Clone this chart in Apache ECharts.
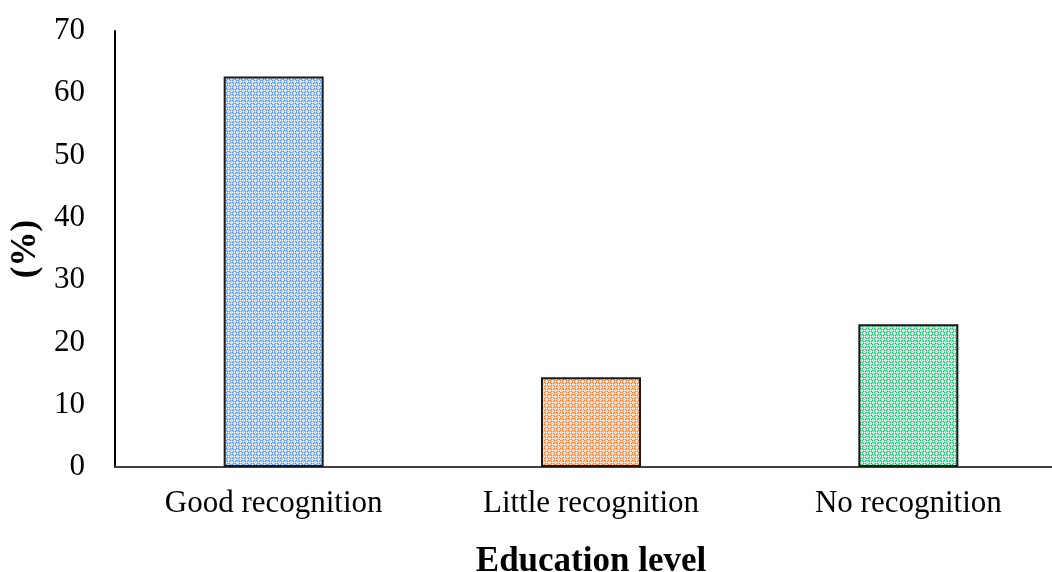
<!DOCTYPE html>
<html>
<head>
<meta charset="utf-8">
<script src="https://cdn.jsdelivr.net/npm/echarts@6/dist/echarts.min.js"></script>
<style>
  html, body { margin: 0; padding: 0; background: #fff; }
  #chart { width: 1052px; height: 572px; }
</style>
</head>
<body>
<div id="chart"></div>
<script>
// Recognition share by category
const categories = ['Good recognition', 'Little recognition', 'No recognition'];
const percentValues = [62.7, 14.4, 22.9];
const yTicks = { min: 0, max: 70, interval: 10 };

// Dotted fill tiles: [base, dark, light]
const palettes = [
  ['#b4d0f1', '#5b93da', '#eef5fd'],
  ['#f8c6a4', '#f07f35', '#fdefe5'],
  ['#9fe3c2', '#27b873', '#e6f9f0']
];

function makeTile(p) {
  const size = 6;
  const c = document.createElement('canvas');
  c.width = size; c.height = size;
  const ctx = c.getContext('2d');
  ctx.fillStyle = p[0];
  ctx.fillRect(0, 0, size, size);
  ctx.fillStyle = p[2];
  [[0,0],[3,3],[1,3],[4,0],[0,4],[3,1],[0,2],[2,0]].forEach(([x, y]) => ctx.fillRect(x, y, 1, 1));
  ctx.fillStyle = p[1];
  [[1,1],[2,2],[4,4],[5,5],[2,4],[4,2],[1,5],[5,1]].forEach(([x, y]) => ctx.fillRect(x, y, 1, 1));
  return c;
}

const chart = echarts.init(document.getElementById('chart'), null, { renderer: 'canvas' });
const font = '"Liberation Serif", "Times New Roman", serif';

chart.setOption({
  animation: false,
  backgroundColor: '#fff',
  grid: {
    left: 115, top: 31, width: 952, height: 436,
    containLabel: false,
    outerBoundsMode: 'none'
  },
  xAxis: {
    type: 'category',
    data: categories,
    axisLine: { show: true, lineStyle: { color: '#404040', width: 2 } },
    axisTick: { show: false },
    axisLabel: { color: '#000', fontFamily: font, fontSize: 31, margin: 21 },
    name: 'Education level',
    nameLocation: 'middle',
    nameGap: 77,
    nameTextStyle: { color: '#000', fontFamily: font, fontSize: 35, fontWeight: 'bold' }
  },
  yAxis: {
    type: 'value',
    min: yTicks.min,
    max: yTicks.max,
    interval: yTicks.interval,
    splitLine: { show: false },
    axisLine: { show: true, lineStyle: { color: '#000', width: 2 } },
    axisTick: { show: false },
    axisLabel: { color: '#000', fontFamily: font, fontSize: 31, margin: 30 },
    name: '(%)',
    nameLocation: 'middle',
    nameGap: 68,
    nameRotate: 90,
    nameTextStyle: { color: '#000', fontFamily: font, fontSize: 35, fontWeight: 'bold' }
  },
  series: [{
    type: 'bar',
    barWidth: 100,
    data: percentValues.map((v, i) => ({
      value: v,
      itemStyle: {
        color: { image: makeTile(palettes[i]), repeat: 'repeat' },
        borderColor: '#1a1a1a',
        borderWidth: 2
      }
    }))
  }]
});
</script>
</body>
</html>
